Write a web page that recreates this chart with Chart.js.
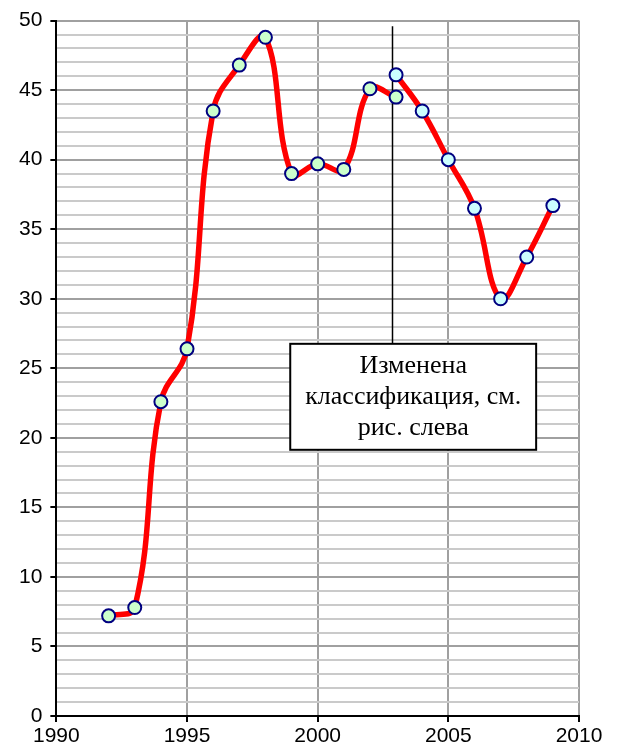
<!DOCTYPE html>
<html>
<head>
<meta charset="utf-8">
<script src="https://cdn.jsdelivr.net/npm/chart.js@4/dist/chart.umd.min.js"></script>
<style>
  html, body { margin: 0; padding: 0; background: #fff; }
  #wrap { width: 621px; height: 751px; }
</style>
</head>
<body>
<div id="wrap"><canvas id="chart"></canvas></div>
<script>
// series before the classification change
const years1 = [1992, 1993, 1994, 1995, 1996, 1997, 1998, 1999, 2000, 2001, 2002, 2003];
const values1 = [7.2, 7.8, 22.6, 26.4, 43.5, 46.8, 48.8, 39.0, 39.7, 39.3, 45.1, 44.5];
// series after the change
const years2 = [2003, 2004, 2005, 2006, 2007, 2008, 2009];
const values2 = [46.1, 43.5, 40.0, 36.5, 30.0, 33.0, 36.7];

const noteLines = ['Изменена', 'классификация, см.', 'рис. слева'];

const toPoints = (xs, ys) => xs.map((x, i) => ({ x: x, y: ys[i] }));

// vertical marker line + text box
const notePlugin = {
    id: 'note',
    beforeDatasetsDraw(chart) {
        const { ctx, scales: { x, y } } = chart;
        const lx = Math.round(x.getPixelForValue(2002.85)) + 0.5;
        ctx.save();
        ctx.strokeStyle = '#000';
        ctx.lineWidth = 1.5;
        ctx.beginPath();
        ctx.moveTo(lx, y.getPixelForValue(49.6));
        ctx.lineTo(lx, y.getPixelForValue(26.7));
        ctx.stroke();
        ctx.restore();
    },
    afterDatasetsDraw(chart) {
        const { ctx, scales: { x, y } } = chart;
        const left = x.getPixelForValue(1998.95);
        const right = x.getPixelForValue(2008.36);
        const top = y.getPixelForValue(26.76);
        const bottom = y.getPixelForValue(19.14);
        ctx.save();
        ctx.fillStyle = '#fff';
        ctx.fillRect(left, top, right - left, bottom - top);
        ctx.strokeStyle = '#000';
        ctx.lineWidth = 2;
        ctx.strokeRect(left, top, right - left, bottom - top);
        ctx.fillStyle = '#000';
        ctx.font = '26px "Liberation Serif", "Times New Roman", serif';
        ctx.textAlign = 'center';
        ctx.textBaseline = 'middle';
        const cx = (left + right) / 2;
        noteLines.forEach((line, i) => {
            ctx.fillText(line, cx, top + 22 + i * 31);
        });
        ctx.restore();
    }
};

const isMajor = v => Math.abs(v % 5) < 1e-9;

new Chart(document.getElementById('chart'), {
    type: 'line',
    data: {
        datasets: [{
            data: toPoints(years1, values1),
            borderColor: '#ff0000',
            borderWidth: 5.5,
            tension: 0.4,
            pointRadius: 6.5,
            pointBorderWidth: 2,
            pointBorderColor: '#000080',
            pointBackgroundColor: '#ccffcc'
        }, {
            data: toPoints(years2, values2),
            borderColor: '#ff0000',
            borderWidth: 5.5,
            tension: 0.4,
            pointRadius: 6.5,
            pointBorderWidth: 2,
            pointBorderColor: '#000080',
            pointBackgroundColor: '#ccffff'
        }]
    },
    options: {
        responsive: true,
        maintainAspectRatio: false,
        animation: false,
        layout: { padding: { top: 15, right: 42, bottom: 0, left: 11 } },
        plugins: {
            legend: { display: false },
            tooltip: { enabled: false }
        },
        scales: {
            x: {
                type: 'linear',
                min: 1990,
                max: 2010,
                ticks: {
                    stepSize: 5,
                    color: '#000',
                    padding: 4,
                    font: { family: '"Liberation Sans", Arial, sans-serif', size: 21, lineHeight: 1 },
                    callback: v => String(v)
                },
                grid: {
                    color: '#a0a0a0',
                    lineWidth: 2,
                    tickColor: '#000',
                    tickLength: 6
                },
                border: { color: '#000', width: 2 }
            },
            y: {
                min: 0,
                max: 50,
                ticks: {
                    stepSize: 1,
                    autoSkip: false,
                    color: '#000',
                    padding: 8,
                    font: { family: '"Liberation Sans", Arial, sans-serif', size: 21 },
                    callback: v => isMajor(v) ? String(v) : ''
                },
                grid: {
                    color: c => isMajor(c.tick.value) ? '#a0a0a0' : '#cacaca',
                    lineWidth: 2,
                    tickColor: c => isMajor(c.tick.value) ? '#000' : 'rgba(0,0,0,0)',
                    tickLength: 6
                },
                border: { color: '#000', width: 2 }
            }
        }
    },
    plugins: [notePlugin]
});
</script>
</body>
</html>
